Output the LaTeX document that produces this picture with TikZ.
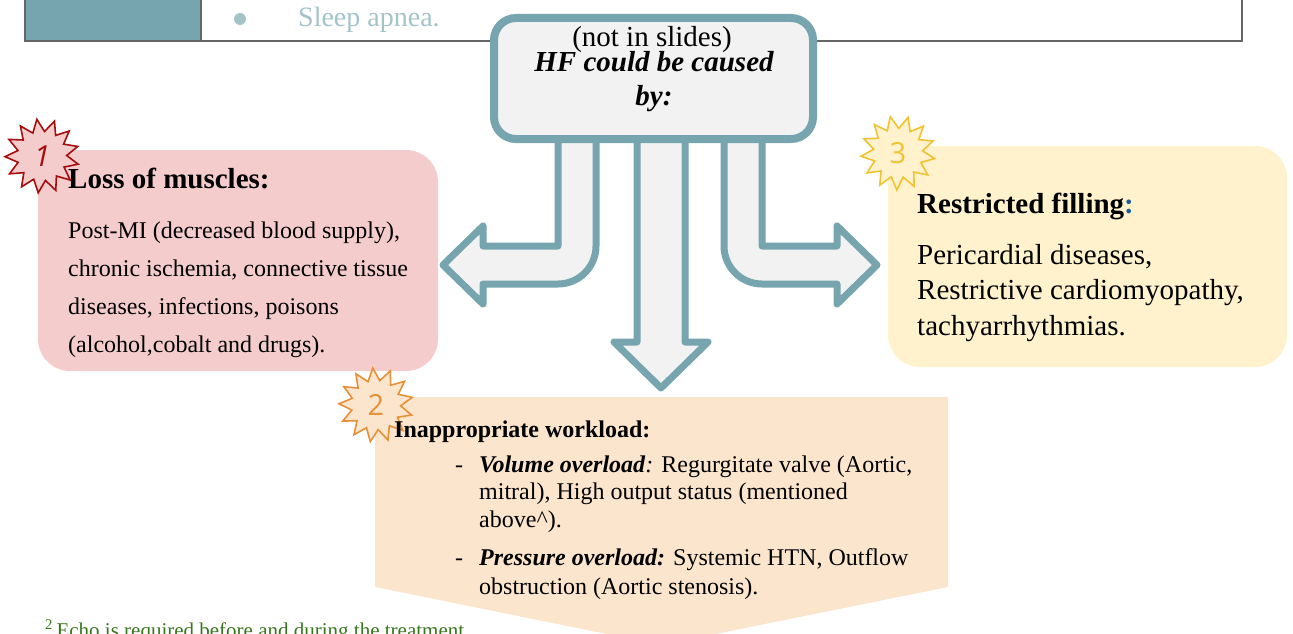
\documentclass[tikz,border=0pt]{standalone}
\usepackage{fontspec}
\setmainfont{Liberation Serif}
\newfontfamily\digitfont{Open Sans}
\usetikzlibrary{shapes.geometric}
\definecolor{arrowteal}{HTML}{76A5AF}
\definecolor{paleg}{HTML}{F2F2F2}
\definecolor{losspink}{HTML}{F4CCCC}
\definecolor{fillyellow}{HTML}{FFF2CC}
\definecolor{workorange}{HTML}{FCE5CD}
\definecolor{burstred}{HTML}{A50E0E}
\definecolor{burstorange}{HTML}{E69138}
\definecolor{burstyellow}{HTML}{F1C232}
\definecolor{colonblue}{HTML}{1F5C99}
\definecolor{notegreen}{HTML}{38761D}
\definecolor{fadedteal}{HTML}{A2C4C9}
\definecolor{rulegray}{HTML}{666666}
\newcommand\arrowlw{7pt}
\newcommand\boxlw{8pt}
\newcommand\axisx{660}

\begin{document}
\begin{tikzpicture}[x=1pt,y=-1pt,
blockarrow/.style={draw=arrowteal,fill=paleg,line width=\arrowlw,line join=round},
causebox/.style={draw=arrowteal,fill=paleg,line width=\boxlw,rounded corners=22pt,minimum width=319pt,minimum height=121pt},
softbox/.style={rounded corners=32pt,inner sep=0pt},
burst/.style={star,star points=13,star point ratio=1.5,minimum size=74pt,inner sep=0pt,line width=1.6pt,font=\digitfont\fontsize{29}{29}\selectfont},
headtext/.style={anchor=base west,inner sep=0pt,font=\bfseries\fontsize{29}{29}\selectfont},
plaintext/.style={anchor=base west,inner sep=0pt}
]
\useasboundingbox (0,0) rectangle (1293,634);

% table row above
\fill[arrowteal] (25,-10) rectangle (201,41);
\draw[rulegray,line width=2.5pt] (25,-10) -- (25,41) -- (1242,41) -- (1242,-10);
\draw[rulegray,line width=2.5pt] (201,-10) -- (201,41);
\fill[fadedteal] (240,19) circle (6pt);
\node[plaintext,text=fadedteal,font=\fontsize{28}{28}\selectfont] (apnea) at (298,27) {Sleep apnea.};

% coloured boxes
\node[softbox,fill=losspink,minimum width=400pt,minimum height=221pt] (loss) at (238,260.5) {};
\node[softbox,fill=fillyellow,minimum width=399pt,minimum height=221pt] (filling) at (1087.5,256.5) {};
\fill[workorange] (375,397) -- (948,397) -- (948,587) -- (661,645) -- (375,587) -- cycle;

% block arrows
\foreach \s in {-1,1}
{
\draw[blockarrow,shift={(\axisx,0)},xscale=\s] (-102,138) -- (-102,246) -- (-177,246) -- (-177,226)
  -- (-217,265) -- (-177,304) -- (-177,284) -- (-102,284)
  arc[start angle=270,end angle=360,radius=38pt] -- (-64,138);
}
\draw[blockarrow] (637,138) -- (637,342) -- (614,342) -- (661,388) -- (708,342) -- (685,342) -- (685,138);

\node[causebox] (cause) at (653.5,78.5) {};
\node[plaintext,anchor=base,font=\fontsize{29}{29}\selectfont] (note) at (652,47) {(not in slides)};
\node[plaintext,anchor=base,font=\bfseries\itshape\fontsize{29}{33}\selectfont] (hf) at (654,72)
  {\begin{tabular}[t]{@{}c@{}}HF could be caused\\by:\end{tabular}};

% numbered bursts
\node[burst,draw=burstred,fill=losspink,text=burstred,shape border rotate=8] (b1) at (42,156) {\itshape 1};
\node[burst,draw=burstorange,fill=workorange,text=burstorange,shape border rotate=5] (b2) at (376,405) {2};
\node[burst,draw=burstyellow,fill=fillyellow,text=burstyellow,shape border rotate=12] (b3) at (898,153) {3};

% texts
\node[headtext] (losshead) at (68,188) {Loss of muscles:};
\node[plaintext,font=\fontsize{24}{38}\selectfont] (lossbody) at (68,238)
  {\begin{tabular}[t]{@{}l@{}}Post-MI (decreased blood supply),\\chronic ischemia, connective tissue\\diseases, infections, poisons\\(alcohol,cobalt and drugs).\end{tabular}};

\node[headtext] (fillhead) at (917,213) {Restricted filling\textcolor{colonblue}{:}};
\node[plaintext,font=\fontsize{29}{35.5}\selectfont] (fillbody) at (917,264)
  {\begin{tabular}[t]{@{}l@{}}Pericardial diseases,\\Restrictive cardiomyopathy,\\tachyarrhythmias.\end{tabular}};

\node[plaintext,font=\bfseries\fontsize{24}{24}\selectfont] (workhead) at (394,437) {Inappropriate workload:};
\node[plaintext,font=\fontsize{24}{27.5}\selectfont] (volitem) at (455,472)
  {\begin{tabular}[t]{@{}l@{\hspace{16pt}}l@{}}-&\textbf{\textit{Volume overload}}\textit{:} Regurgitate valve (Aortic,\\
  &mitral), High output status (mentioned\\&above\textasciicircum).\end{tabular}};
\node[plaintext,font=\fontsize{24}{29}\selectfont] (presitem) at (455,565)
  {\begin{tabular}[t]{@{}l@{\hspace{16pt}}l@{}}-&\textbf{\textit{Pressure overload:}} Systemic HTN, Outflow\\
  &obstruction (Aortic stenosis).\end{tabular}};

\node[plaintext,text=notegreen,font=\fontsize{21}{21}\selectfont] (echo) at (45,637)
  {\textsuperscript{2}\,Echo is required before and during the treatment};
\end{tikzpicture}
\end{document}
